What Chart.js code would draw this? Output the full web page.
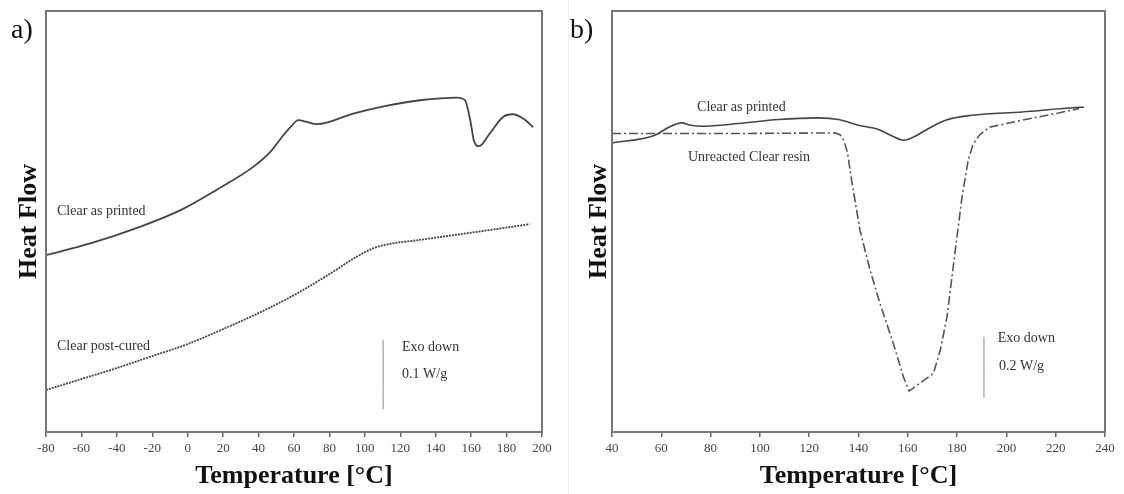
<!DOCTYPE html>
<html>
<head>
<meta charset="utf-8">
<script src="https://cdn.jsdelivr.net/npm/chart.js@4/dist/chart.umd.min.js"></script>
<style>
body{margin:0;background:#fff;}
#wrap{position:relative;width:1124px;height:494px;background:#fff;overflow:hidden;}
canvas{position:absolute;top:0;}
.tag{position:absolute;font-family:"Liberation Serif",serif;font-size:28px;line-height:1;color:#111;}
#sep{position:absolute;left:568px;top:0;width:1px;height:494px;background:#f1f1f1;}
</style>
</head>
<body>
<div id="wrap">
<canvas id="chartA" width="562" height="494" style="left:0"></canvas>
<canvas id="chartB" width="562" height="494" style="left:562px"></canvas>
<div id="sep"></div>
<div class="tag" style="left:11px;top:15px">a)</div>
<div class="tag" style="left:570px;top:15px">b)</div>
</div>
<script>
// a) temperature (°C) and heat flow (arbitrary units, exo down)
const tempA_printed=[-80,-55,-27,-4,16,37,46.5,54,58,62.5,67,73,93.5,112,131,152,156.5,159.5,161.5,164.5,170.5,178,183.5,190,195];
const flowA_printed=[177,188.7,205.3,222,242,265.3,280,297,305,312,310.3,308,318.7,326.3,332,334.7,332,312,292,286,298.7,315.3,318,313,305];

const tempA_cured=[-80,-60,-40,-20,0,20,40,60,80,95,105,115,130,150,170,193];
const flowA_cured=[42,53,64,76,88,103,119,137,158,175,184,188.5,192,197,202,208];

// b)
const tempB_printed=[40,57.4,63,68.3,72,76.4,91.3,107.5,123.7,131.9,140,148.1,153,158.3,163,167.2,175.3,186,206.4,228.2,231.5];
const flowB_printed=[289.3,297,305,309.3,307,306,308.7,312.7,314.3,312.7,307,302.7,297,292,296,302,312,317,320.3,324.7,325];

const tempB_resin=[40,91,130.5,132.5,134,135.5,137.2,140.6,144.7,148.7,154.1,158.2,160.5,170.4,173.2,175.9,178.6,182,184.5,186.5,189,193,206.4,220,229.5];
const flowB_resin=[298.7,298.7,299.3,297.5,292,280,252,202,162,128.7,88.7,55.3,41,58.7,82,115.3,168.7,235.3,272,288,297,305,312,318.7,323.7];

// scale bars (temperature, bottom, top)
const barA=[110.3,22.5,92];
const barB=[190.9,34,95];

const ticksA=[-80,200];
const ticksB=[40,240];

const notesA=[
  {text:"Clear as printed",x:-73.8,y:221},
  {text:"Clear post-cured",x:-73.8,y:86},
  {text:"Exo down",x:121,y:85},
  {text:"0.1 W/g",x:121,y:58}
];
const notesB=[
  {text:"Clear as printed",x:74.5,y:325},
  {text:"Unreacted Clear resin",x:70.8,y:275},
  {text:"Exo down",x:196.5,y:94},
  {text:"0.2 W/g",x:197,y:66}
];

function pts(xs,ys){return xs.map((v,i)=>({x:v,y:ys[i]}));}

const frameAndNotes={
  id:"frameAndNotes",
  afterDatasetsDraw(chart,args,opts){
    const ctx=chart.ctx, a=chart.chartArea, sx=chart.scales.x, sy=chart.scales.y;
    ctx.save();
    ctx.strokeStyle="#777";
    ctx.lineWidth=2;
    ctx.strokeRect(a.left,a.top,a.right-a.left,a.bottom-a.top);
    ctx.font='14px "Liberation Serif", serif';
    ctx.fillStyle="#333";
    ctx.textBaseline="middle";
    opts.notes.forEach(n=>{
      ctx.fillText(n.text,sx.getPixelForValue(n.x),sy.getPixelForValue(n.y));
    });
    ctx.restore();
  }
};

const titleFont={family:'"Liberation Serif", serif',size:26,weight:"bold"};

function makeChart(id,datasets,range,notes,yWidth,padRight,yTitlePad){
  return new Chart(document.getElementById(id),{
    type:"line",
    data:{datasets:datasets},
    options:{
      responsive:false,
      animation:false,
      devicePixelRatio:1,
      layout:{padding:{top:11,right:padRight,left:0,bottom:0}},
      elements:{point:{radius:0},line:{cubicInterpolationMode:"monotone"}},
      plugins:{legend:{display:false},tooltip:{enabled:false},frameAndNotes:{notes:notes}},
      scales:{
        x:{
          type:"linear",min:range[0],max:range[1],
          afterFit:s=>{s.height=62;},
          border:{display:false},
          grid:{drawOnChartArea:false,drawTicks:true,tickLength:5,tickColor:"#666",lineWidth:1.5},
          ticks:{stepSize:20,autoSkip:false,maxRotation:0,padding:4,color:"#444",
            font:{family:'"Liberation Serif", serif',size:13}},
          title:{display:true,text:"Temperature [°C]",color:"#111",font:titleFont,padding:{top:0,bottom:2}}
        },
        y:{
          type:"linear",min:0,max:421.3,
          afterFit:s=>{s.width=yWidth;},
          border:{display:false},
          grid:{display:false},
          ticks:{display:false},
          title:{display:true,text:"Heat Flow",color:"#111",font:titleFont,padding:{top:yTitlePad,bottom:0}}
        }
      }
    },
    plugins:[frameAndNotes]
  });
}

makeChart("chartA",[
  {data:pts(tempA_printed,flowA_printed),borderColor:"#444",borderWidth:1.8},
  {data:pts(tempA_cured,flowA_cured),borderColor:"#444",borderWidth:1.8,borderDash:[2,1]},
  {data:[{x:barA[0],y:barA[1]},{x:barA[0],y:barA[2]}],borderColor:"#888",borderWidth:1}
],ticksA,notesA,46,20,14);

makeChart("chartB",[
  {data:pts(tempB_printed,flowB_printed),borderColor:"#444",borderWidth:1.6},
  {data:pts(tempB_resin,flowB_resin),borderColor:"#555",borderWidth:1.6,borderDash:[9,3,2,3],
    cubicInterpolationMode:"default",tension:0},
  {data:[{x:barB[0],y:barB[1]},{x:barB[0],y:barB[2]}],borderColor:"#888",borderWidth:1}
],ticksB,notesB,50,19,22);
</script>
</body>
</html>
